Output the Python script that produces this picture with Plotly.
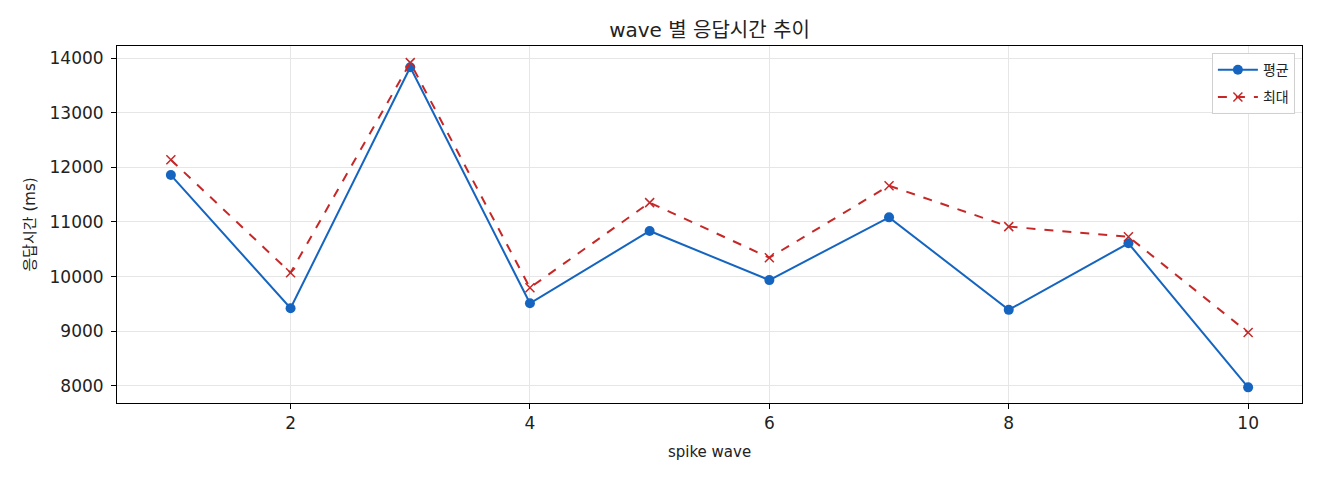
import plotly.graph_objects as go

waves = [1, 2, 3, 4, 5, 6, 7, 8, 9, 10]
avg_ms = [11860, 9420, 13835, 9510, 10835, 9935, 11085, 9390, 10610, 7970]
max_ms = [12140, 10070, 13920, 9795, 11355, 10345, 11665, 10915, 10730, 8975]
y_ticks = [8000, 9000, 10000, 11000, 12000, 13000, 14000]
x_ticks = [2, 4, 6, 8, 10]

font = "DejaVu Sans, Noto Sans CJK KR"

fig = go.Figure()
fig.add_trace(go.Scatter(x=waves, y=avg_ms, name="평균", mode="lines+markers",
                         legendgroup="avg",
                         line=dict(color="#1565C0", width=2),
                         marker=dict(symbol="circle", size=10, color="#1565C0")))
fig.add_trace(go.Scatter(x=waves, y=max_ms, name="최대", mode="lines+markers",
                         legendgroup="max",
                         line=dict(color="#C62828", width=2, dash="dash"),
                         marker=dict(symbol="x-thin", size=9, color="#C62828",
                                     line=dict(color="#C62828", width=1.5))))

axis_style = dict(showline=True, linecolor="black", linewidth=1, mirror=True,
                  ticks="outside", ticklen=5, tickcolor="black",
                  showgrid=True, gridcolor="#e6e6e6", gridwidth=1,
                  zeroline=False, tickfont=dict(size=17, color="#222"))

# the page body has an 8px margin, so the figure is a bit smaller than the window
fig.update_layout(
    width=1312, height=472,
    margin=dict(l=109, r=18, t=38, b=77),
    paper_bgcolor="white", plot_bgcolor="white",
    font=dict(family=font, size=15, color="#222"),
    title=dict(text="wave 별 응답시간 추이", xref="paper", x=0.5, xanchor="center",
               y=0.953, yanchor="middle", font=dict(size=20, color="#222")),
    xaxis=dict(range=[0.55, 10.45], tickvals=x_ticks, tickformat="d",
               title=dict(text="spike wave", font=dict(size=15), standoff=14),
               **axis_style),
    yaxis=dict(range=[7683, 14225], tickvals=y_ticks, tickformat="d",
               ticklabelstandoff=4,
               title=dict(text="응답시간 (ms)", font=dict(size=15), standoff=10),
               **axis_style),
    legend=dict(x=0.994, y=0.98, xanchor="right", yanchor="top",
                bgcolor="rgba(255,255,255,0.9)", bordercolor="#d0d0d0", borderwidth=1,
                font=dict(size=14), itemwidth=40, tracegroupgap=6),
    showlegend=True,
)

fig.write_html("out.html")
